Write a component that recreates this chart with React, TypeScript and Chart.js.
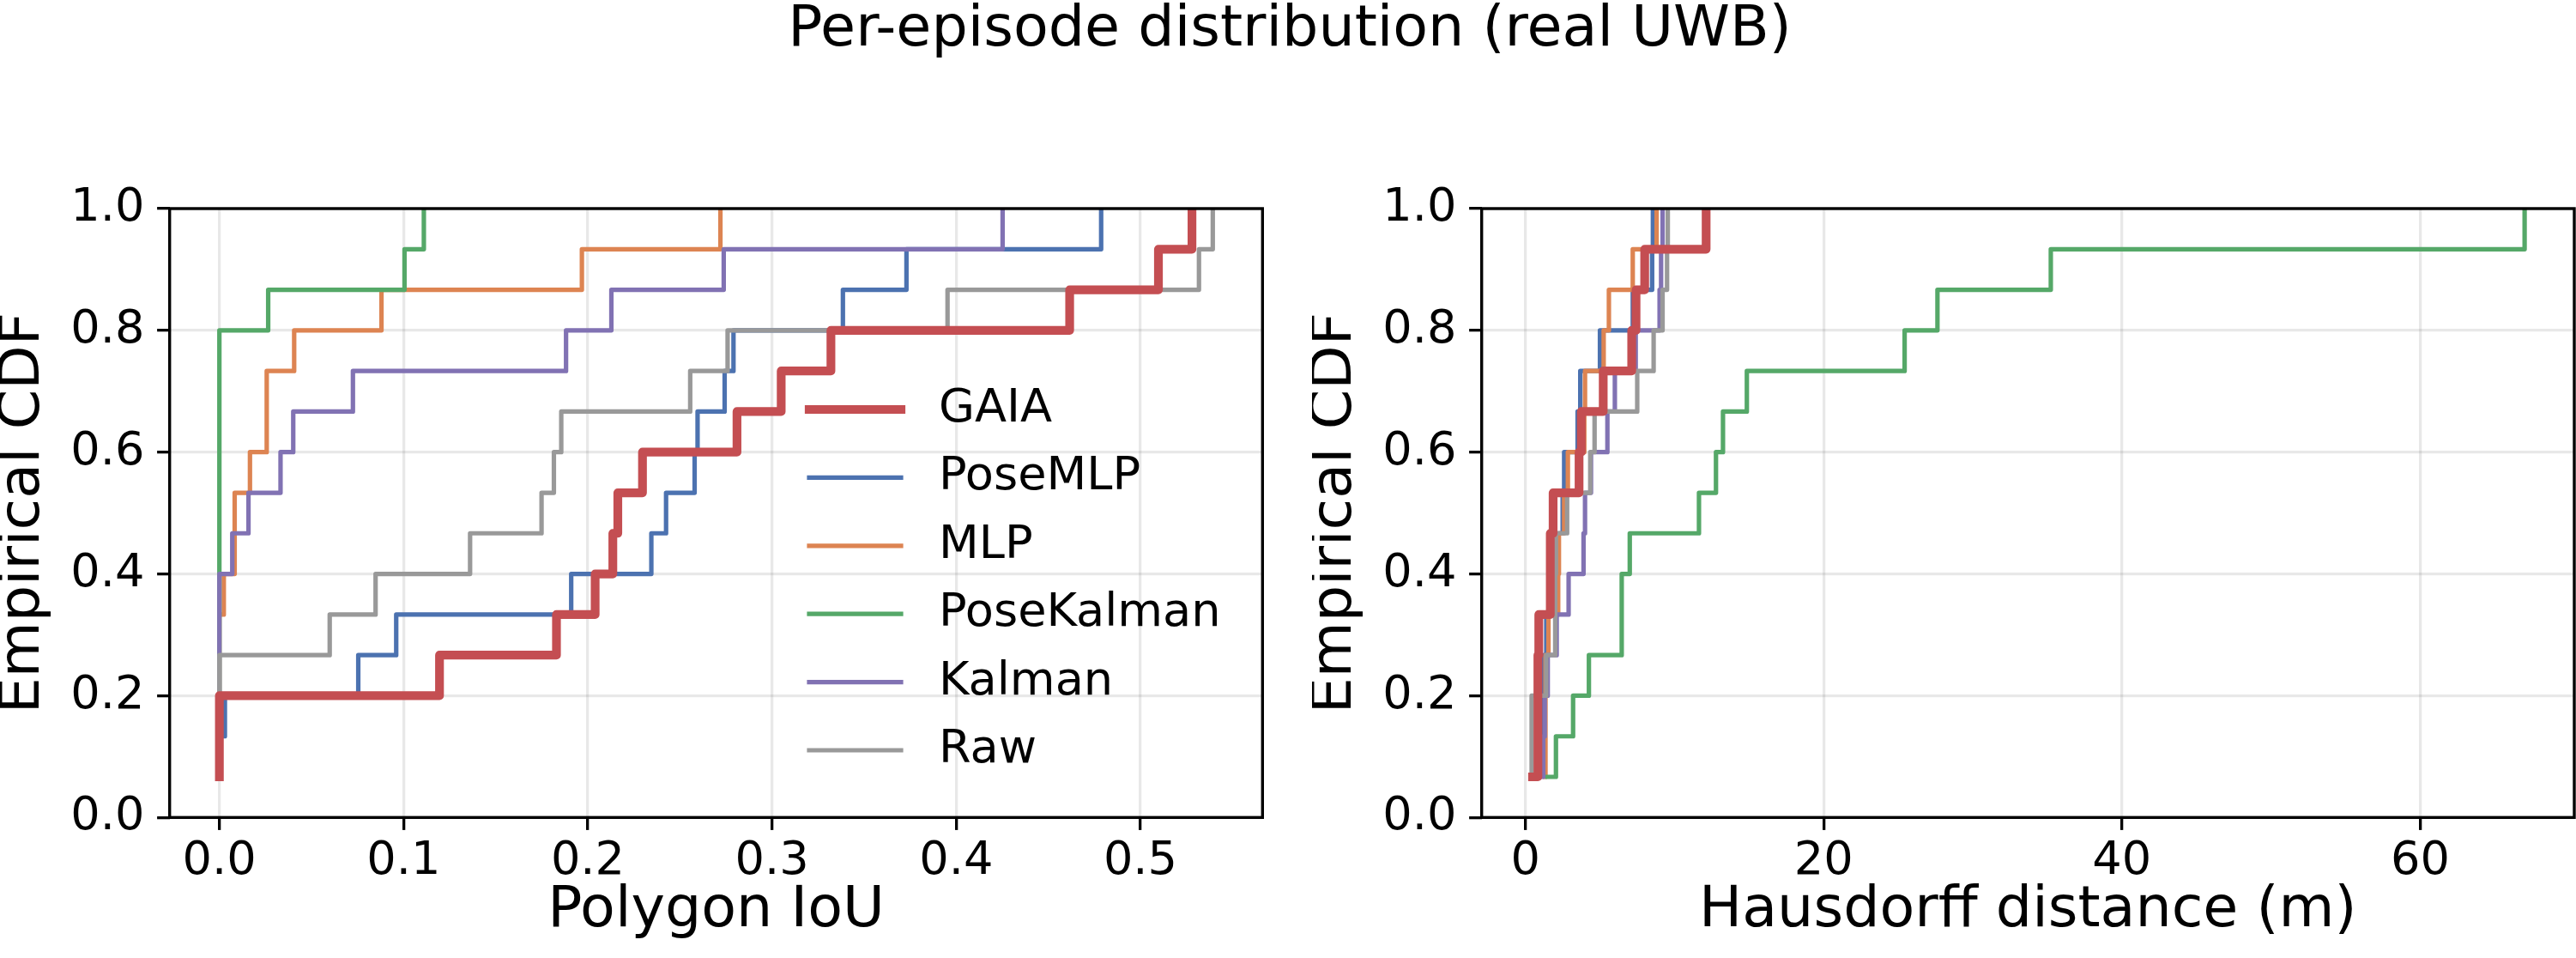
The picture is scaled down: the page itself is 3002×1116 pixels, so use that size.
import React, { useEffect, useRef } from 'react';
import { Chart, registerables } from 'chart.js';

Chart.register(...registerables);

const FONT = "'DejaVu Sans', 'Liberation Sans', sans-serif";

const figureTitle = 'Per-episode distribution (real UWB)';
const leftXTitle = 'Polygon IoU';
const rightXTitle = 'Hausdorff distance (m)';
const yTitle = 'Empirical CDF';

const seriesNames = ['GAIA', 'PoseMLP', 'MLP', 'PoseKalman', 'Kalman', 'Raw'];
const seriesColors = ['#C44E52', '#4C72B0', '#DD8452', '#55A868', '#8172B3', '#999999'];
const seriesLineWidths = [10.2, 5.2, 5.2, 5.2, 5.2, 5.2];
const seriesDrawOrder = [0, 5, 4, 3, 2, 1];

// empirical CDF levels (15 episodes)
const cdfLevels = [0.0667, 0.1333, 0.2, 0.2667, 0.3333, 0.4, 0.4667, 0.5333, 0.6, 0.6667, 0.7333, 0.8, 0.8667, 0.9333, 1.0];

// Polygon IoU, sorted per method
const iouGAIA = [0, 0, 0, 0.1195, 0.183, 0.204, 0.2136, 0.2163, 0.2297, 0.281, 0.305, 0.332, 0.4616, 0.5098, 0.528];
const iouPoseMLP = [0, 0, 0.003, 0.0754, 0.096, 0.191, 0.2345, 0.2425, 0.258, 0.2596, 0.2743, 0.2791, 0.3385, 0.373, 0.4787];
const iouMLP = [0, 0, 0, 0, 0, 0.0024, 0.0083, 0.0083, 0.0166, 0.0257, 0.0257, 0.0406, 0.088, 0.1968, 0.272];
const iouPoseKalman = [0, 0, 0, 0, 0, 0, 0, 0, 0, 0, 0, 0, 0.0265, 0.1005, 0.111];
const iouKalman = [0, 0, 0, 0, 0, 0, 0.007, 0.0158, 0.0332, 0.0401, 0.0725, 0.1882, 0.2128, 0.2738, 0.4252];
const iouRaw = [0, 0, 0, 0, 0.0599, 0.0848, 0.1361, 0.1749, 0.1816, 0.1856, 0.2556, 0.2759, 0.3953, 0.5318, 0.5393];

// Hausdorff distance (m), sorted per method
const hausGAIA = [0.48, 0.84, 0.84, 0.84, 0.9, 1.67, 1.67, 1.86, 3.6, 3.75, 5.22, 7.13, 7.42, 8.0, 12.12];
const hausPoseMLP = [0.6, 0.9, 1.1, 1.25, 1.4, 1.6, 1.8, 2.5, 2.6, 3.5, 3.68, 5.0, 7.2, 8.5, 8.55];
const hausMLP = [1.3, 1.35, 1.35, 1.35, 1.55, 2.2, 2.25, 2.6, 2.85, 3.95, 4.0, 5.25, 5.6, 7.2, 8.8];
const hausPoseKalman = [1.48, 2.05, 3.2, 4.26, 6.46, 6.46, 7.0, 11.64, 12.78, 13.25, 14.85, 25.43, 27.63, 35.23, 67.0];
const hausKalman = [0.9, 1.2, 1.3, 1.5, 2.1, 2.9, 3.9, 4.0, 4.4, 5.5, 6.0, 7.4, 9.0, 9.1, 9.2];
const hausRaw = [0.4, 0.42, 0.42, 1.4, 2.0, 2.0, 2.05, 2.8, 4.35, 4.64, 7.5, 8.6, 9.2, 9.5, 9.55];

const iouSeries = [iouGAIA, iouPoseMLP, iouMLP, iouPoseKalman, iouKalman, iouRaw];
const hausSeries = [hausGAIA, hausPoseMLP, hausMLP, hausPoseKalman, hausKalman, hausRaw];

const yTicks = [0, 0.2, 0.4, 0.6, 0.8, 1.0];
const iouTicks = [0, 0.1, 0.2, 0.3, 0.4, 0.5];
const hausTicks = [0, 20, 40, 60];
const iouRange = [-0.027, 0.5663];
const hausRange = [-2.93, 70.33];

const TICK_SIZE = 54.2;
const LABEL_SIZE = 66.7;
const GRID_COLOR = 'rgba(0,0,0,0.09)';

const framePlugin = {
  id: 'mplFrame',
  afterDatasetsDraw(chart: any) {
    const { ctx, chartArea: a } = chart;
    ctx.save();
    ctx.strokeStyle = '#000';
    ctx.lineWidth = 3.4;
    ctx.strokeRect(a.left, a.top, a.right - a.left, a.bottom - a.top);
    ctx.restore();
  },
};

const legendPlugin = {
  id: 'insideLegend',
  afterDatasetsDraw(chart: any) {
    const { ctx } = chart;
    const x0 = 943;
    const x1 = 1050;
    const tx = 1094;
    const y0 = 477;
    const step = 79.4;
    ctx.save();
    ctx.font = `${TICK_SIZE}px ${FONT}`;
    ctx.textBaseline = 'middle';
    ctx.textAlign = 'left';
    seriesNames.forEach((name, i) => {
      const y = y0 + i * step;
      ctx.strokeStyle = seriesColors[i];
      ctx.lineWidth = seriesLineWidths[i];
      ctx.lineCap = 'square';
      ctx.beginPath();
      ctx.moveTo(x0, y);
      ctx.lineTo(x1, y);
      ctx.stroke();
      ctx.fillStyle = '#000';
      ctx.fillText(name, tx, y);
    });
    ctx.restore();
  },
};

function makeConfig(
  series: number[][],
  range: number[],
  xTicks: number[],
  xTitle: string,
  fmt: (v: number) => string,
  padRight: number,
  withLegend: boolean,
): any {
  return {
    type: 'line',
    data: {
      datasets: seriesNames.map((name, i) => ({
        label: name,
        data: series[i].map((x, k) => ({ x, y: cdfLevels[k] })),
        borderColor: seriesColors[i],
        backgroundColor: seriesColors[i],
        borderWidth: seriesLineWidths[i],
        stepped: 'before',
        pointRadius: 0,
        pointHoverRadius: 0,
        fill: false,
        tension: 0,
        borderCapStyle: 'square',
        borderJoinStyle: 'round',
        order: seriesDrawOrder[i],
        clip: 0,
      })),
    },
    options: {
      animation: false,
      responsive: false,
      devicePixelRatio: 1,
      events: [],
      layout: { padding: { top: 243, right: padRight, bottom: 0, left: 0 } },
      plugins: {
        legend: { display: false },
        tooltip: { enabled: false },
        title: { display: false },
      },
      scales: {
        x: {
          type: 'linear',
          min: range[0],
          max: range[1],
          bounds: 'data',
          afterFit: (s: any) => {
            s.height = 163.7;
          },
          afterBuildTicks: (s: any) => {
            s.ticks = xTicks.map((v) => ({ value: v }));
          },
          ticks: {
            callback: (v: any) => fmt(Number(v)),
            font: { family: FONT, size: TICK_SIZE },
            color: '#000',
            padding: 4.6,
            maxRotation: 0,
            autoSkip: false,
          },
          grid: {
            color: GRID_COLOR,
            lineWidth: 3.3,
            drawTicks: true,
            tickLength: 14.6,
            tickWidth: 3.3,
            tickColor: '#000',
          },
          border: { display: false },
          title: {
            display: true,
            text: xTitle,
            color: '#000',
            font: { family: FONT, size: LABEL_SIZE, lineHeight: 0.8 },
            padding: { top: 0, bottom: 27.3 },
          },
        },
        y: {
          type: 'linear',
          min: 0,
          max: 1,
          bounds: 'data',
          afterFit: (s: any) => {
            s.width = 197.7;
          },
          afterBuildTicks: (s: any) => {
            s.ticks = yTicks.map((v) => ({ value: v }));
          },
          ticks: {
            callback: (v: any) => Number(v).toFixed(1),
            font: { family: FONT, size: TICK_SIZE },
            color: '#000',
            padding: 14.6,
            autoSkip: false,
          },
          grid: {
            color: GRID_COLOR,
            lineWidth: 3.3,
            drawTicks: true,
            tickLength: 14.6,
            tickWidth: 3.3,
            tickColor: '#000',
          },
          border: { display: false },
          title: {
            display: true,
            text: yTitle,
            color: '#000',
            font: { family: FONT, size: LABEL_SIZE, lineHeight: 0.8 },
            padding: { top: 0.8, bottom: 0 },
          },
        },
      },
    },
    plugins: withLegend ? [framePlugin, legendPlugin] : [framePlugin],
  };
}

export default function App() {
  const leftRef = useRef<HTMLCanvasElement | null>(null);
  const rightRef = useRef<HTMLCanvasElement | null>(null);

  useEffect(() => {
    Chart.defaults.font.family = FONT;
    const left = new Chart(
      leftRef.current as HTMLCanvasElement,
      makeConfig(iouSeries, iouRange, iouTicks, leftXTitle, (v) => v.toFixed(1), 29.7, true),
    );
    const right = new Chart(
      rightRef.current as HTMLCanvasElement,
      makeConfig(hausSeries, hausRange, hausTicks, rightXTitle, (v) => String(Math.round(v)), 2, false),
    );
    return () => {
      left.destroy();
      right.destroy();
    };
  }, []);

  return (
    <div
      style={{
        position: 'absolute',
        left: 0,
        top: 0,
        width: 3002,
        height: 1116,
        background: '#fff',
        overflow: 'hidden',
      }}
    >
      <div
        style={{
          position: 'absolute',
          left: 0,
          top: -3,
          width: 3006,
          textAlign: 'center',
          font: `${LABEL_SIZE}px ${FONT}`,
          lineHeight: `${LABEL_SIZE}px`,
          whiteSpace: 'nowrap',
          color: '#000',
        }}
      >
        {figureTitle}
      </div>
      <canvas
        ref={leftRef}
        width={1501}
        height={1116}
        style={{ position: 'absolute', left: 0, top: 0, width: 1501, height: 1116 }}
      />
      <canvas
        ref={rightRef}
        width={1473}
        height={1116}
        style={{ position: 'absolute', left: 1529, top: 0, width: 1473, height: 1116 }}
      />
    </div>
  );
}
